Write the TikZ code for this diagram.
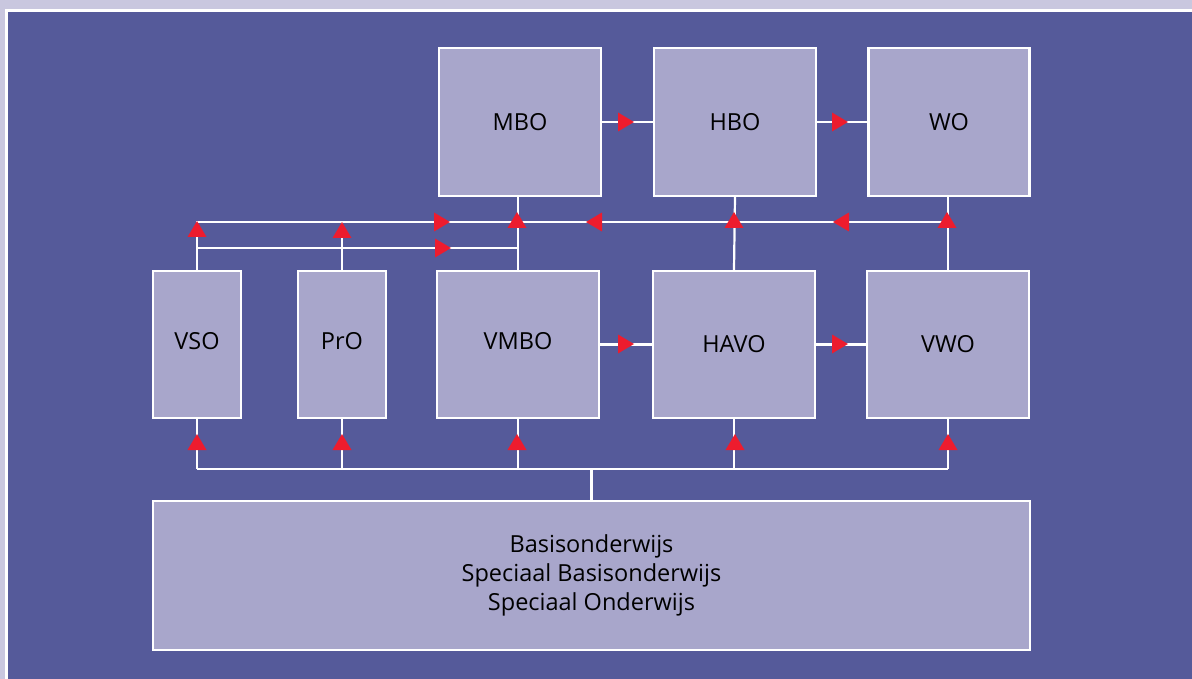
\documentclass[tikz,border=0pt]{standalone}
\usepackage{fontspec}
\setmainfont{Open Sans}
\definecolor{outerbg}{RGB}{201,199,223}
\definecolor{bluebg}{RGB}{85,90,154}
\definecolor{boxfill}{RGB}{168,166,203}
\definecolor{arrowred}{RGB}{237,28,46}
\begin{document}
\begin{tikzpicture}[x=1pt,y=-1pt,
  box/.style={draw=white, line width=2.2pt, fill=boxfill, inner sep=0pt,
    font=\fontsize{23.5}{29}\selectfont, text=black, align=center},
  wire/.style={draw=white, line width=2.2pt},
  tri/.pic={\fill[arrowred] (0,0) -- (-16,9.5) -- (-16,-9.5) -- cycle;}]
\useasboundingbox (0,0) rectangle (1192,679);
\fill[outerbg] (0,0) rectangle (1192,679);
\fill[white] (5,9) rectangle (1192,679);
\fill[bluebg] (8,12) rectangle (1192,679);

% boxes
\node[box, minimum width=162pt, minimum height=148pt] (mbo) at (520,122) {\raisebox{-2pt}{MBO}};
\node[box, minimum width=162pt, minimum height=148pt] (hbo) at (735,122) {\raisebox{-2pt}{HBO}};
\node[box, minimum width=161pt, minimum height=148pt] (wo) at (949,122) {\raisebox{-2pt}{WO}};
\node[box, minimum width=88pt, minimum height=147pt] (vso) at (197,344.5) {\raisebox{7pt}{VSO}};
\node[box, minimum width=88pt, minimum height=147pt] (pro) at (342,344.5) {\raisebox{7pt}{PrO}};
\node[box, minimum width=162pt, minimum height=147pt] (vmbo) at (518,344.5) {\raisebox{7pt}{VMBO}};
\node[box, minimum width=162pt, minimum height=147pt] (havo) at (734,344.5) {\raisebox{-3pt}{HAVO}};
\node[box, minimum width=162pt, minimum height=147pt] (vwo) at (948,344.5) {\raisebox{-3pt}{VWO}};
\node[box, minimum width=877pt, minimum height=149pt] (basis) at (591.5,575.5)
  {\raisebox{-1.5pt}{\begin{tabular}{c}Basisonderwijs\\Speciaal Basisonderwijs\\Speciaal Onderwijs\end{tabular}}};

% junction coordinates
\coordinate (L1w) at (197,222);
\coordinate (L1e) at (948,222);
\coordinate (L2w) at (197,248);
\coordinate (L2e) at (517,248);
\coordinate (B1) at (197,469);
\coordinate (B2) at (948,469);
\coordinate (bj) at (592,469);

% upper network
\draw[wire] (vso.north) -- (L1w) -- (L1e);
\draw[wire] (L2w) -- (L2e);
\draw[wire] (pro.north) -- (pro.north |- L1w);
\draw[wire] (vmbo.north) -- (vmbo.north |- mbo.south);
\draw[wire] (havo.north) -- (hbo.south);
\draw[wire] (vwo.north) -- (vwo.north |- wo.south);

% horizontal links between boxes
\draw[wire] (mbo.east) -- (hbo.west);
\draw[wire] (hbo.east) -- (wo.west);
\draw[wire] (vmbo.east) -- (havo.west);
\draw[wire] (havo.east) -- (vwo.west);

% lower network
\draw[wire] (B1) -- (B2);
\draw[wire] (vso.south) -- (vso.south |- B1);
\draw[wire] (pro.south) -- (pro.south |- B1);
\draw[wire] (vmbo.south) -- (vmbo.south |- B1);
\draw[wire] (havo.south) -- (havo.south |- B1);
\draw[wire] (vwo.south) -- (vwo.south |- B1);
\draw[wire] (basis.north) -- (basis.north |- bj);

% arrowheads
\pic[rotate=90] at (197,221) {tri};
\pic[rotate=90] at (342,222) {tri};
\pic[rotate=90] at (517,212) {tri};
\pic[rotate=90] at (734,212) {tri};
\pic[rotate=90] at (947,212) {tri};
\pic at (450,222) {tri};
\pic at (451,248) {tri};
\pic[rotate=180] at (586,222) {tri};
\pic[rotate=180] at (833,222) {tri};
\pic at (634,122) {tri};
\pic at (848,122) {tri};
\pic at (634,344) {tri};
\pic at (848,344) {tri};
\pic[rotate=90] at (197,434) {tri};
\pic[rotate=90] at (342,434) {tri};
\pic[rotate=90] at (517,434) {tri};
\pic[rotate=90] at (735,434) {tri};
\pic[rotate=90] at (948,434) {tri};
\end{tikzpicture}
\end{document}
